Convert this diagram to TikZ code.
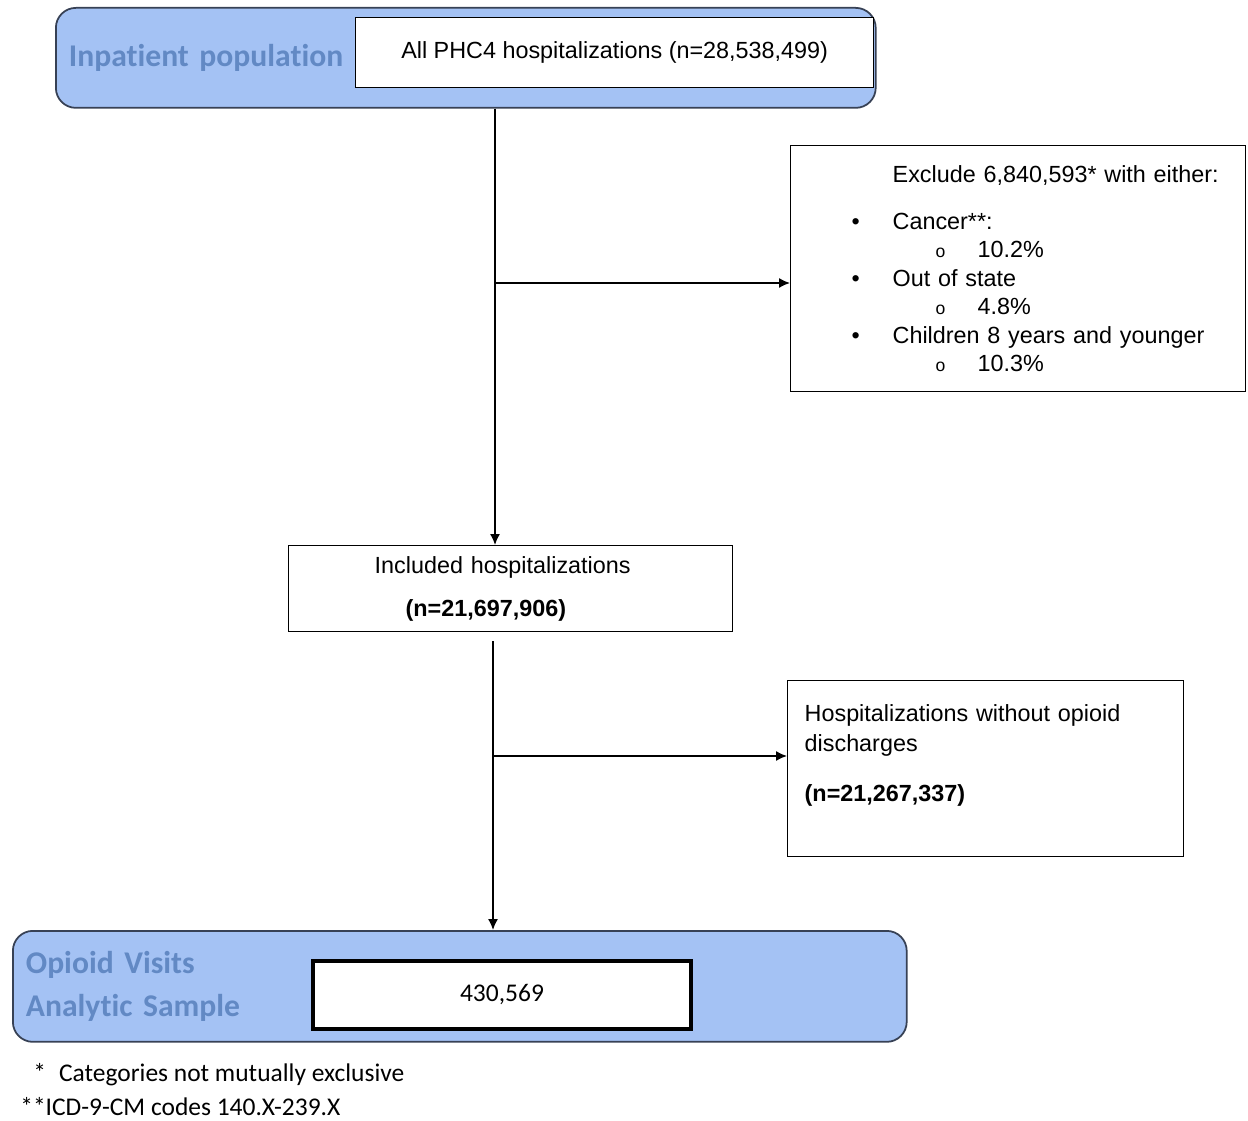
\documentclass[tikz,border=0pt]{standalone}
\usepackage{fontspec}
\setmainfont{Liberation Sans}
\newfontfamily\calibri[Ligatures=NoCommon]{Carlito}
\usepackage{tikz}
\usetikzlibrary{positioning, shapes.geometric, arrows.meta}
\definecolor{bandblue}{RGB}{164,194,244}
\definecolor{labelblue}{RGB}{98,137,196}
\definecolor{bandline}{RGB}{55,65,85}
\tikzstyle{arrow} = [line width=0.85pt,-{Latex[length=0.22cm,width=0.2cm]}]
\tikzstyle{box} = [draw, rectangle, line width=0.8pt, fill=white, inner sep=0pt]
\tikzstyle{band} = [draw=bandline, fill=bandblue, rectangle, rounded corners=0.4cm, line width=1pt, align=left, text=labelblue, font=\calibri\bfseries\fontsize{18}{20}\selectfont]

\begin{document}
\begin{tikzpicture}[x=0.02cm, y=-0.02cm, font=\fontsize{13.3}{16}\selectfont]
        \useasboundingbox (0,0) rectangle (1248,1121);

        % Inpatient population
        \node[band, anchor=north west, minimum width=16.4cm, minimum height=2cm, text width=15.88cm, inner xsep=0.26cm] (inpat) at (55,7) {Inpatient population};
        \node[box, anchor=north west, minimum width=10.36cm, minimum height=1.4cm] (allhosp) at (355,17) {All PHC4 hospitalizations (n=28,538,499)\rule[-0.1cm]{0pt}{0pt}};

        % Exclusions
        \node[box, anchor=north west, minimum width=9.1cm, minimum height=4.92cm, text width=7.9cm, inner xsep=0.6cm, align=left, font=\fontsize{13.3}{16.2}\selectfont] (excl) at (790,145) {%
            \mbox{\hspace*{1.44cm}Exclude 6,840,593* with either:}\\[0.37cm]
            \hspace*{0.62cm}\makebox[0.82cm][l]{\textbullet}Cancer**:\\
            \hspace*{2.3cm}\makebox[0.84cm][l]{\fontsize{10}{10}\selectfont o}10.2\%\\
            \hspace*{0.62cm}\makebox[0.82cm][l]{\textbullet}Out of state\\
            \hspace*{2.3cm}\makebox[0.84cm][l]{\fontsize{10}{10}\selectfont o}4.8\%\\
            \hspace*{0.62cm}\makebox[0.82cm][l]{\textbullet}Children 8 years and younger\\
            \hspace*{2.3cm}\makebox[0.84cm][l]{\fontsize{10}{10}\selectfont o}10.3\%};

        % Included
        \node[box, anchor=north west, minimum width=8.88cm, minimum height=1.72cm, text width=8.88cm, align=left] (incl) at (288,545) {\hspace*{1.72cm}Included hospitalizations\\[0.3cm]\hspace*{2.34cm}\textbf{(n=21,697,906)}};

        % Without opioid discharges
        \node[box, anchor=north west, minimum width=7.92cm, minimum height=3.52cm, text width=7.24cm, inner xsep=0.34cm, align=left, font=\fontsize{13.3}{17}\selectfont] (noopi) at (787,680) {Hospitalizations without opioid\\discharges\\[0.4cm]\textbf{(n=21,267,337)}\rule[-0.62cm]{0pt}{0.62cm}};

        % Analytic sample
        \node[band, anchor=north west, minimum width=17.88cm, minimum height=2.22cm, text width=17.36cm, inner xsep=0.26cm] (sample) at (12,930) {Opioid Visits\\[0.16cm]Analytic Sample};
        \node[draw, line width=2.3pt, fill=white, minimum width=7.56cm, minimum height=1.36cm, anchor=north west, font=\calibri\fontsize{14.5}{16}\selectfont] (count) at (311,959) {430,569\rule[-0.1cm]{0pt}{0pt}};

        % Notes
        \node[anchor=west, inner sep=0pt, font=\calibri\fontsize{14.5}{16}\selectfont] (note1) at (33,1075) {*\hspace{0.26cm}Categories not mutually exclusive};
        \node[anchor=west, inner sep=0pt, font=\calibri\fontsize{14.5}{16}\selectfont] (note2) at (20,1107) {**ICD-9-CM codes 140.X-239.X};

        % Arrows
        \coordinate (split1) at (495,283);
        \coordinate (split2) at (493,756);
        \draw[arrow] (inpat.south -| split1) -- (split1 |- incl.north);
        \draw[arrow] (split1) -- (split1 -| excl.west);
        \draw[arrow, shorten <=0.18cm] (incl.south -| split2) -- (split2 |- sample.north);
        \draw[arrow] (split2) -- (split2 -| noopi.west);

    \end{tikzpicture}
\end{document}
